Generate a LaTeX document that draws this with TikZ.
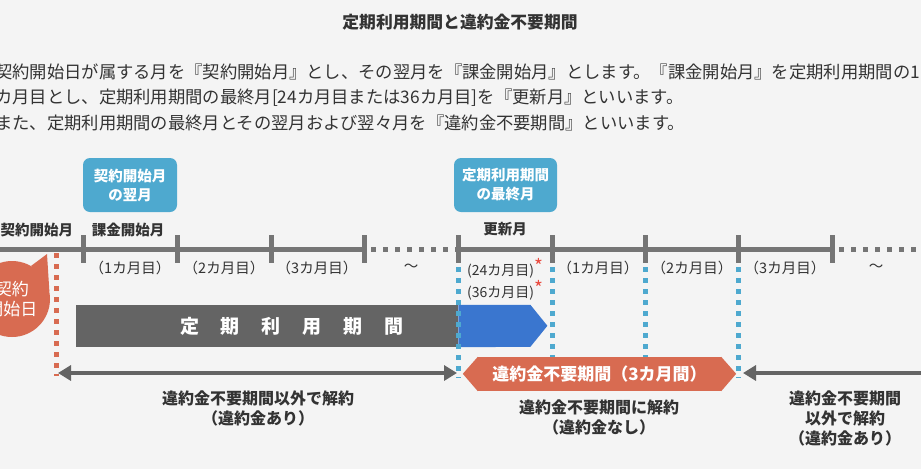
\documentclass[tikz,border=0pt]{standalone}
\usepackage{fontspec}
\setmainfont{Noto Sans CJK JP}
\usetikzlibrary{arrows.meta}

\definecolor{paper}{HTML}{F4F4F4}
\definecolor{ink}{HTML}{333333}
\definecolor{linegray}{HTML}{757575}
\definecolor{bargray}{HTML}{646464}
\definecolor{skyblue}{HTML}{4EA9CF}
\definecolor{deepblue}{HTML}{3A76CF}
\definecolor{salmon}{HTML}{D86B51}
\definecolor{starred}{HTML}{EA4A3F}

\tikzstyle{tagbox} = [rectangle, fill=skyblue, rounded corners=7pt, text=white,
                 align=center, font=\bfseries\fontsize{14.5}{19}\selectfont,
                 minimum height=54pt, inner sep=0pt]
\tikzstyle{month} = [text=ink, font=\fontsize{14.5}{16}\selectfont]
\tikzstyle{point} = [text=ink, font=\bfseries\fontsize{14.5}{16}\selectfont]
\tikzstyle{note} = [text=ink, align=center, font=\bfseries\fontsize{16}{20}\selectfont]
\tikzstyle{body} = [text=ink, anchor=west, inner sep=0pt, font=\fontsize{17.3}{20}\selectfont]
\tikzstyle{tickmark} = [linegray, line width=5pt]
\tikzstyle{dotgap} = [linegray, line width=5pt, dash pattern=on 5pt off 7pt, dash phase=5pt]
\tikzstyle{blueguide} = [skyblue, line width=5pt, dash pattern=on 5pt off 6pt]
\tikzstyle{redguide} = [salmon, line width=5pt, dash pattern=on 5pt off 6pt]
\tikzstyle{longarrow} = [bargray, line width=4.5pt]
\newcommand{\redstar}{\textcolor{starred}{\raisebox{2pt}{\fontsize{19}{19}\selectfont *}}}

\begin{document}
\begin{tikzpicture}[x=1pt,y=-1pt,>={Triangle[length=13pt,width=15pt]}]

\useasboundingbox (0,0) rectangle (921,469);
\clip (0,0) rectangle (921,469);
\fill[paper] (0,0) rectangle (921,469);

% heading
\node[text=ink, font=\bfseries\fontsize{16.8}{20}\selectfont] (title) at (460,22) {定期利用期間と違約金不要期間};
\node[body] (line1) at (-5,72) {契約開始日が属する月を『契約開始月』とし、その翌月を『課金開始月』とします。『課金開始月』を定期利用期間の1};
\node[body] (line2) at (-5,97.5) {カ月目とし、定期利用期間の最終月[24カ月目または36カ月目]を『更新月』といいます。};
\node[body] (line3) at (-5,123) {また、定期利用期間の最終月とその翌月および翌々月を『違約金不要期間』といいます。};

% timeline
\draw[tickmark] (-10,249) -- (364,249);
\draw[dotgap] (364,249) -- (458,249);
\draw[tickmark] (458,249) -- (832,249);
\draw[dotgap] (832,249) -- (930,249);
	%ticks
\foreach \x [count=\i] in {83,177,271,364,458,552,645,738,832} {
	\coordinate (m\i) at (\x,249);
	\draw[tickmark] ([yshift=14pt]m\i) -- ([yshift=-14pt]m\i);
}

\node[point] (contract) at (37,230) {契約開始月};
\node[point] (billing) at (128,230) {課金開始月};
\node[point] (renewal) at (505,229) {更新月};

\node[tagbox, minimum width=94pt] (nextmonth) at (130,185) {契約開始月\\の翌月};
\node[tagbox, minimum width=103pt] (lastmonth) at (505.5,185) {定期利用期間\\の最終月};

\foreach \x/\lab [count=\i] in {130/1, 224/2, 317/3, 598/1, 692/2, 785/3}
	\node[month] (mon\i) at (\x,268) {（{\lab}カ月目）};
\node[month] (wave1) at (411,268) {〜};
\node[month] (wave2) at (876,268) {〜};
\node[month, font=\fontsize{14}{16}\selectfont] (m24) at (505,268) {(24カ月目)\redstar};
\node[month, font=\fontsize{14}{16}\selectfont] (m36) at (505,290) {(36カ月目)\redstar};

% contract term bar
\node[fill=bargray, minimum width=382pt, minimum height=42pt, inner sep=0pt, anchor=west] (term) at (76,326) {};
\node[text=white, font=\bfseries\fontsize{19}{20}\selectfont] (termlabel) at (292,326)
	{定\hspace{22pt}期\hspace{22pt}利\hspace{22pt}用\hspace{22pt}期\hspace{22pt}間};
\fill[deepblue] (term.north east) -- ++(72,0) -- ++(17,21) -- ++(-17,21) -- (term.south east) -- cycle;

% guides
\coordinate (leftend) at (56,373);
\coordinate (renewend) at (458,373);
\coordinate (freeend) at (738,373);
\coordinate (rightout) at (930,373);
\draw[redguide] (56,253) -- ([yshift=-3pt]leftend);
\foreach \i in {5,6,7,8}
	\draw[blueguide] ([yshift=-18pt]m\i) -- (m\i |- 0,378);

% free period
\node[fill=salmon, minimum width=243pt, minimum height=34pt, inner sep=0pt, text=white,
	font=\bfseries\fontsize{17}{20}\selectfont] (free) at (599.5,374) {違約金不要期間（3カ月間）};
\fill[salmon] (free.north west) -- ++(-15,17) -- (free.south west) -- cycle;
\fill[salmon] (free.north east) -- ++(15,17) -- (free.south east) -- cycle;

\draw[longarrow, <->] ([xshift=2pt]leftend) -- ([xshift=-1pt]renewend);
\draw[longarrow, <-] ([xshift=5pt]freeend) -- (rightout);

% start day bubble
\node[circle, fill=salmon, minimum size=76pt, inner sep=0pt, text=white, align=center,
	font=\fontsize{17}{20}\selectfont] (startday) at (12,299) {契約\\開始日};
\coordinate (tailtip) at (47,254);
\fill[salmon] (startday.60) -- (tailtip) -- (startday.12) -- cycle;

\node[note] (paid1) at (258,408) {違約金不要期間以外で解約\\（違約金あり）};
\node[note] (free1) at (599,417) {違約金不要期間に解約\\（違約金なし）};
\node[note] (paid2) at (845,418) {違約金不要期間\\以外で解約\\（違約金あり）};

\end{tikzpicture}
\end{document}
